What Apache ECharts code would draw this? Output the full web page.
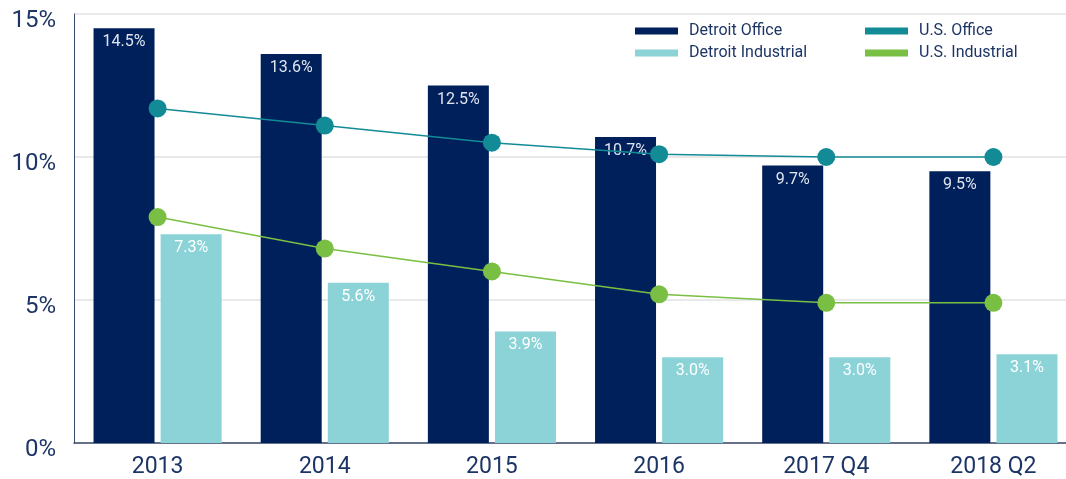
<!DOCTYPE html>
<html><head><meta charset="utf-8">
<script src="https://cdn.jsdelivr.net/npm/echarts@6/dist/echarts.min.js"></script>
<style>html,body{margin:0;padding:0;background:#fff;overflow:hidden;width:1066px;height:479px}#c{width:1080px;height:479px}</style>
</head><body><div id="c"></div>
<script>
const categories = ['2013','2014','2015','2016','2017 Q4','2018 Q2'];
const detroitOffice = [14.5, 13.6, 12.5, 10.7, 9.7, 9.5];
const detroitIndustrial = [7.3, 5.6, 3.9, 3.0, 3.0, 3.1];
const usOffice = [11.7, 11.1, 10.5, 10.1, 10.0, 10.0];
const usIndustrial = [7.9, 6.8, 6.0, 5.2, 4.9, 4.9];

const font = 'Roboto, "Liberation Sans", sans-serif';
const textColor = '#1d3566';
const chart = echarts.init(document.getElementById('c'));
const legendBase = {
  orient: 'vertical', icon: 'rect', itemWidth: 43, itemHeight: 7, itemGap: 6,
  textStyle: { fontFamily: font, fontSize: 16, color: textColor, padding: [0,0,0,6] },
  selectedMode: false
};
chart.setOption({
  animation: false,
  grid: { left: 74, top: 14, width: 1003, height: 429, containLabel: false },
  legend: [
    Object.assign({}, legendBase, { left: 630, top: 18, data: ['Detroit Office', 'Detroit Industrial'] }),
    Object.assign({}, legendBase, { left: 860, top: 18, data: ['U.S. Office', 'U.S. Industrial'] })
  ],
  xAxis: {
    type: 'category', data: categories,
    axisLine: { lineStyle: { color: '#3a4a6b', width: 1.5 } },
    axisTick: { show: false },
    axisLabel: { fontFamily: font, fontSize: 23, color: textColor, margin: 13 }
  },
  yAxis: {
    type: 'value', min: 0, max: 15, interval: 5,
    axisLine: { show: true, lineStyle: { color: '#3a4a6b', width: 1 } },
    axisTick: { show: false },
    splitLine: { lineStyle: { color: '#e2e2e2', width: 1.5 } },
    axisLabel: { margin: 18, formatter: '{a|{value}%}',
      rich: { a: { fontFamily: font, fontSize: 24, color: textColor, padding: [14, 0, 0, 0] } } }
  },
  series: [
    { name: 'Detroit Office', type: 'bar', data: detroitOffice, barWidth: 61, barGap: '10%',
      itemStyle: { color: '#00205b' },
      label: { show: true, position: 'insideTop', distance: 6, formatter: p => p.value.toFixed(1) + '%',
        fontFamily: font, fontSize: 16, color: '#dfe5ef' } },
    { name: 'Detroit Industrial', type: 'bar', data: detroitIndustrial, barWidth: 61, barGap: '10%',
      itemStyle: { color: '#8cd3d8' },
      label: { show: true, position: 'insideTop', distance: 6, formatter: p => p.value.toFixed(1) + '%',
        fontFamily: font, fontSize: 16, color: '#ffffff' } },
    { name: 'U.S. Office', type: 'line', data: usOffice, symbol: 'circle', symbolSize: 18,
      itemStyle: { color: '#138b96' }, lineStyle: { color: '#138b96', width: 1.5 }, z: 5 },
    { name: 'U.S. Industrial', type: 'line', data: usIndustrial, symbol: 'circle', symbolSize: 18,
      itemStyle: { color: '#79bf43' }, lineStyle: { color: '#79bf43', width: 1.5 }, z: 5 }
  ]
});
</script></body></html>
